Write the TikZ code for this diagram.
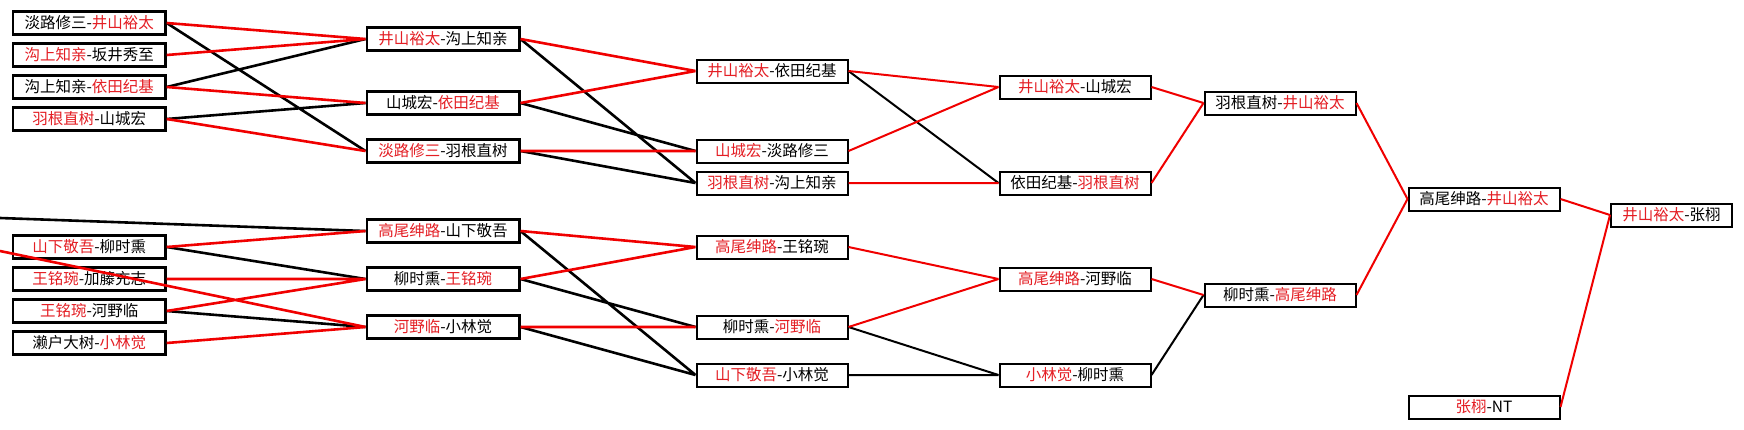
\documentclass[tikz,border=0pt]{standalone}
\usepackage{fontspec}
\setmainfont{Noto Sans CJK SC}
\definecolor{wred}{RGB}{240,0,0}
\definecolor{wtxt}{RGB}{228,30,36}
\tikzset{
  mbox/.style={draw, fill=white, line width=2pt, minimum width=151pt, minimum height=23pt,
               inner sep=0pt, font=\fontsize{15.5}{18}\selectfont},
  mboxb/.style={mbox, line width=2.6pt, minimum width=152.4pt, minimum height=23.4pt},
  wline/.style={wred, line width=2.6pt},
  lline/.style={black, line width=2.6pt},
  late/.style={line width=2pt},
}
\newcommand{\wL}[2]{\textcolor{wtxt}{#1}-#2}
\newcommand{\wR}[2]{#1-\textcolor{wtxt}{#2}}

\begin{document}
\begin{tikzpicture}[x=1pt, y=-1pt]
    \useasboundingbox[fill=white] (0,0) rectangle (1744,429);
    \begin{scope}[xshift=89.2]
      \node[mboxb] (ra1) at (0,23)  {\wR{淡路修三}{井山裕太}};
      \node[mboxb] (ra2) at (0,55)  {\wL{沟上知亲}{坂井秀至}};
      \node[mboxb] (ra3) at (0,87)  {\wR{沟上知亲}{依田纪基}};
      \node[mboxb] (ra4) at (0,119) {\wL{羽根直树}{山城宏}};
      \node[mboxb] (ra5) at (0,247) {\wL{山下敬吾}{柳时熏}};
      \node[mboxb] (ra6) at (0,279) {\wL{王铭琬}{加藤充志}};
      \node[mboxb] (ra7) at (0,311) {\wL{王铭琬}{河野临}};
      \node[mboxb] (ra8) at (0,343) {\wR{濑户大树}{小林觉}};
    \end{scope}
    \begin{scope}[xshift=443]
      \node[mboxb] (rb1) at (0,39)  {\wL{井山裕太}{沟上知亲}};
      \node[mboxb] (rb2) at (0,103) {\wR{山城宏}{依田纪基}};
      \node[mboxb] (rb3) at (0,151) {\wL{淡路修三}{羽根直树}};
      \node[mboxb] (rb4) at (0,231) {\wL{高尾绅路}{山下敬吾}};
      \node[mboxb] (rb5) at (0,279) {\wR{柳时熏}{王铭琬}};
      \node[mboxb] (rb6) at (0,327) {\wL{河野临}{小林觉}};
    \end{scope}
    \begin{scope}[xshift=772]
      \node[mbox] (rc1) at (0,71)  {\wL{井山裕太}{依田纪基}};
      \node[mbox] (rc2) at (0,151) {\wL{山城宏}{淡路修三}};
      \node[mbox] (rc3) at (0,183) {\wL{羽根直树}{沟上知亲}};
      \node[mbox] (rc4) at (0,247) {\wL{高尾绅路}{王铭琬}};
      \node[mbox] (rc5) at (0,327) {\wR{柳时熏}{河野临}};
      \node[mbox] (rc6) at (0,375) {\wL{山下敬吾}{小林觉}};
    \end{scope}
    \begin{scope}[xshift=1075]
      \node[mbox] (rd1) at (0,87)  {\wL{井山裕太}{山城宏}};
      \node[mbox] (rd2) at (0,183) {\wR{依田纪基}{羽根直树}};
      \node[mbox] (rd3) at (0,279) {\wL{高尾绅路}{河野临}};
      \node[mbox] (rd4) at (0,375) {\wL{小林觉}{柳时熏}};
    \end{scope}
    \begin{scope}[xshift=1280]
      \node[mbox] (re1) at (0,103) {\wR{羽根直树}{井山裕太}};
      \node[mbox] (re2) at (0,295) {\wR{柳时熏}{高尾绅路}};
    \end{scope}
    \begin{scope}[xshift=1484]
      \node[mbox] (rf1) at (0,199) {\wR{高尾绅路}{井山裕太}};
      \node[mbox] (rf2) at (0,407) {\wL{张栩}{NT}};
    \end{scope}
    \node[mbox, minimum width=121pt] (rg1) at (1671.5,215) {\wL{井山裕太}{张栩}};
    \coordinate (inA) at (0,218);
    \coordinate (inB) at (0,251);
    \draw[lline] (inA) -- (rb4.west) (ra1.east) -- (rb3.west) (ra3.east) -- (rb1.west)
      (ra4.east) -- (rb2.west) (ra5.east) -- (rb5.west) (ra7.east) -- (rb6.west);
    \draw[wline] (inB) -- (rb6.west) (ra1.east) -- (rb1.west) (ra2.east) -- (rb1.west)
      (ra3.east) -- (rb2.west) (ra4.east) -- (rb3.west) (ra5.east) -- (rb4.west)
      (ra6.east) -- (rb5.west) (ra7.east) -- (rb5.west) (ra8.east) -- (rb6.west);
    \draw[lline] (rb1.east) -- (rc3.west) (rb2.east) -- (rc2.west) (rb3.east) -- (rc3.west)
      (rb4.east) -- (rc6.west) (rb5.east) -- (rc5.west) (rb6.east) -- (rc6.west);
    \draw[wline] (rb1.east) -- (rc1.west) (rb2.east) -- (rc1.west) (rb3.east) -- (rc2.west)
      (rb4.east) -- (rc4.west) (rb5.east) -- (rc4.west) (rb6.east) -- (rc5.west);
    \draw[lline, late] (rc1.east) -- (rd2.west) (rc5.east) -- (rd4.west)
      (rc6.east) -- (rd4.west) (rd4.east) -- (re2.west);
    \draw[wline, late] (rc1.east) -- (rd1.west) (rc2.east) -- (rd1.west)
      (rc3.east) -- (rd2.west) (rc4.east) -- (rd3.west) (rc5.east) -- (rd3.west)
      (rd1.east) -- (re1.west) (rd2.east) -- (re1.west) (rd3.east) -- (re2.west)
      (re1.east) -- (rf1.west) (re2.east) -- (rf1.west)
      (rf1.east) -- (rg1.west) (rf2.east) -- (rg1.west);
  \end{tikzpicture}
\end{document}
